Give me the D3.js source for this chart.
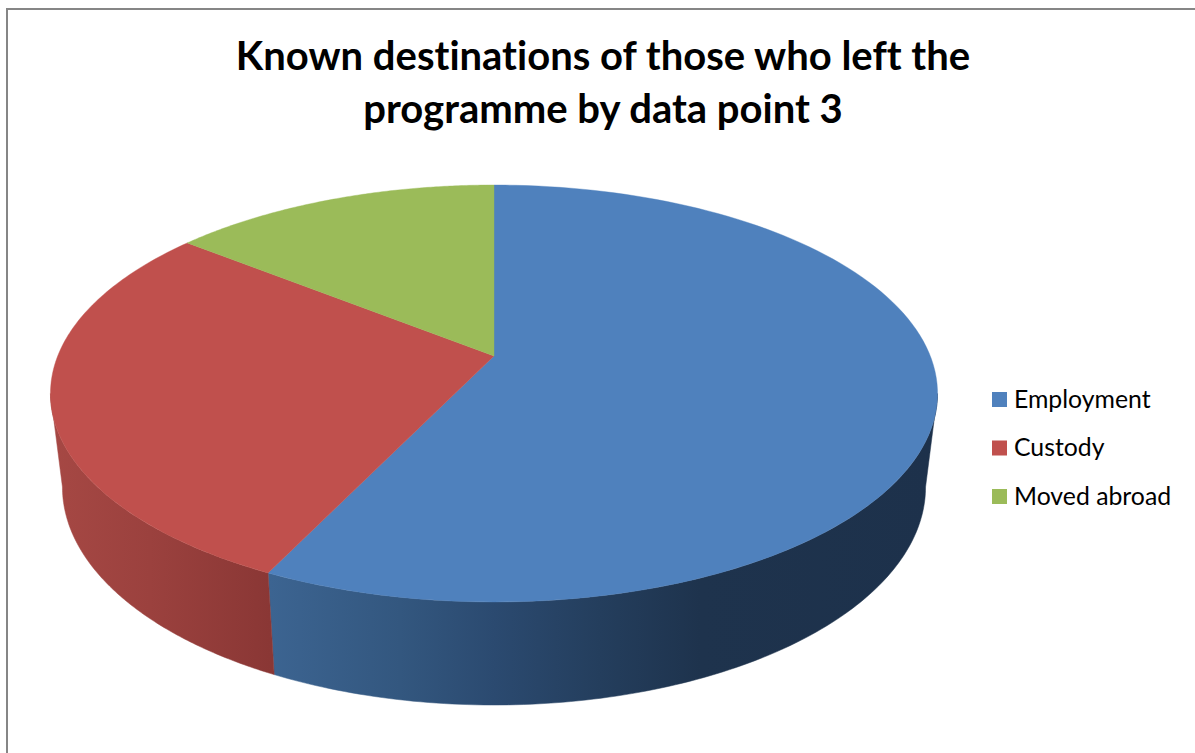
<!DOCTYPE html>
<html>
<head>
<meta charset="utf-8">
<script src="https://cdn.jsdelivr.net/npm/d3@7"></script>
<style>
html, body { margin: 0; padding: 0; background: #fff; }
svg { display: block; }
text { font-family: Lato, Carlito, sans-serif; fill: #000; font-variant-ligatures: none; }
</style>
</head>
<body>
<svg id="chart" width="1195" height="753"></svg>
<script>
const categories = ["Employment", "Custody", "Moved abroad"];
const values = [4, 2, 1];
const faceColors = ["#4f81bd", "#c0504d", "#9bbb59"];
const titleLines = ["Known destinations of those who left the", "programme by data point 3"];

const svg = d3.select("#chart");
const defs = svg.append("defs");

// Chart frame: only the left and top edges fall inside the page
svg.append("rect")
  .attr("x", 7).attr("y", 9).attr("width", 1400).attr("height", 1000)
  .attr("fill", "#fff").attr("stroke", "#868686").attr("stroke-width", 2);

// Perspective projection of the unit disc onto the page
const centerX = 494, radius = 436.3;
const tilt = { c: -0.1799, a: 137.7, b: 356 };
function projectTop(theta) {
  const u = Math.sin(theta), v = -Math.cos(theta);
  const w = 1 + tilt.c * v;
  return [centerX + radius * u / w, (tilt.a * v + tilt.b) / w];
}
// The base outline is a little narrower, a little deeper and sits lower
const faceMidY = 393.5, baseMidY = 487, baseScaleX = 0.973, baseScaleY = 1.0456;
function projectBase(theta) {
  const [x, y] = projectTop(theta);
  return [centerX + (x - centerX) * baseScaleX, baseMidY + (y - faceMidY) * baseScaleY];
}

const pie = d3.pie().sort(null).value(d => d);
const slices = pie(values);

const sample = (a0, a1) => d3.range(0, 121).map(i => a0 + (a1 - a0) * i / 120);
const line = d3.line();

// Side wall gradients run left to right across the page
const sideStops = [
  [[270, "#3c6491"], [400, "#33577f"], [494, "#2b4a70"], [600, "#243e5d"], [700, "#1e334d"], [937, "#1d314b"]],
  [[50, "#a64844"], [150, "#9b413e"], [270, "#8a3735"]]
];
sideStops.forEach((stops, i) => {
  const x0 = stops[0][0], x1 = stops[stops.length - 1][0];
  const g = defs.append("linearGradient")
    .attr("id", "side" + i)
    .attr("gradientUnits", "userSpaceOnUse")
    .attr("x1", x0).attr("x2", x1).attr("y1", 0).attr("y2", 0);
  g.selectAll("stop").data(stops).join("stop")
    .attr("offset", d => (d[0] - x0) / (x1 - x0))
    .attr("stop-color", d => d[1]);
});

// Only the front of the wall shows, between the two silhouette tangents
const visibleFrom = Math.acos(tilt.c), visibleTo = 2 * Math.PI - visibleFrom;
slices.forEach((s, i) => {
  const a0 = Math.max(s.startAngle, visibleFrom);
  const a1 = Math.min(s.endAngle, visibleTo);
  if (a1 <= a0) return;
  const angles = sample(a0, a1);
  const pts = angles.map(projectTop).concat(angles.slice().reverse().map(projectBase));
  svg.append("path")
    .attr("d", line(pts) + "Z")
    .attr("fill", `url(#side${i})`)
    .attr("stroke", `url(#side${i})`)
    .attr("stroke-width", 0.5);
});

// Top face wedges
slices.forEach((s, i) => {
  const pts = [[centerX, tilt.b]].concat(sample(s.startAngle, s.endAngle).map(projectTop));
  svg.append("path")
    .attr("d", line(pts) + "Z")
    .attr("fill", faceColors[i])
    .attr("stroke", faceColors[i])
    .attr("stroke-width", 0.4);
});

// Title
svg.append("g").selectAll("text").data(titleLines).join("text")
  .attr("x", 603)
  .attr("y", (d, i) => 70 + i * 53)
  .attr("text-anchor", "middle")
  .attr("font-weight", 700)
  .attr("font-size", 40)
  .text(d => d);

// Legend
const legendY = d3.scalePoint().domain(categories).range([399.5, 496.5]);
const legend = svg.append("g").selectAll("g").data(categories).join("g")
  .attr("transform", d => `translate(0,${legendY(d)})`);
legend.append("rect")
  .attr("x", 992).attr("y", -7.5).attr("width", 15).attr("height", 15)
  .attr("fill", (d, i) => faceColors[i]);
legend.append("text")
  .attr("x", 1014).attr("y", 8)
  .attr("font-size", 24.8)
  .text(d => d);
</script>
</body>
</html>
